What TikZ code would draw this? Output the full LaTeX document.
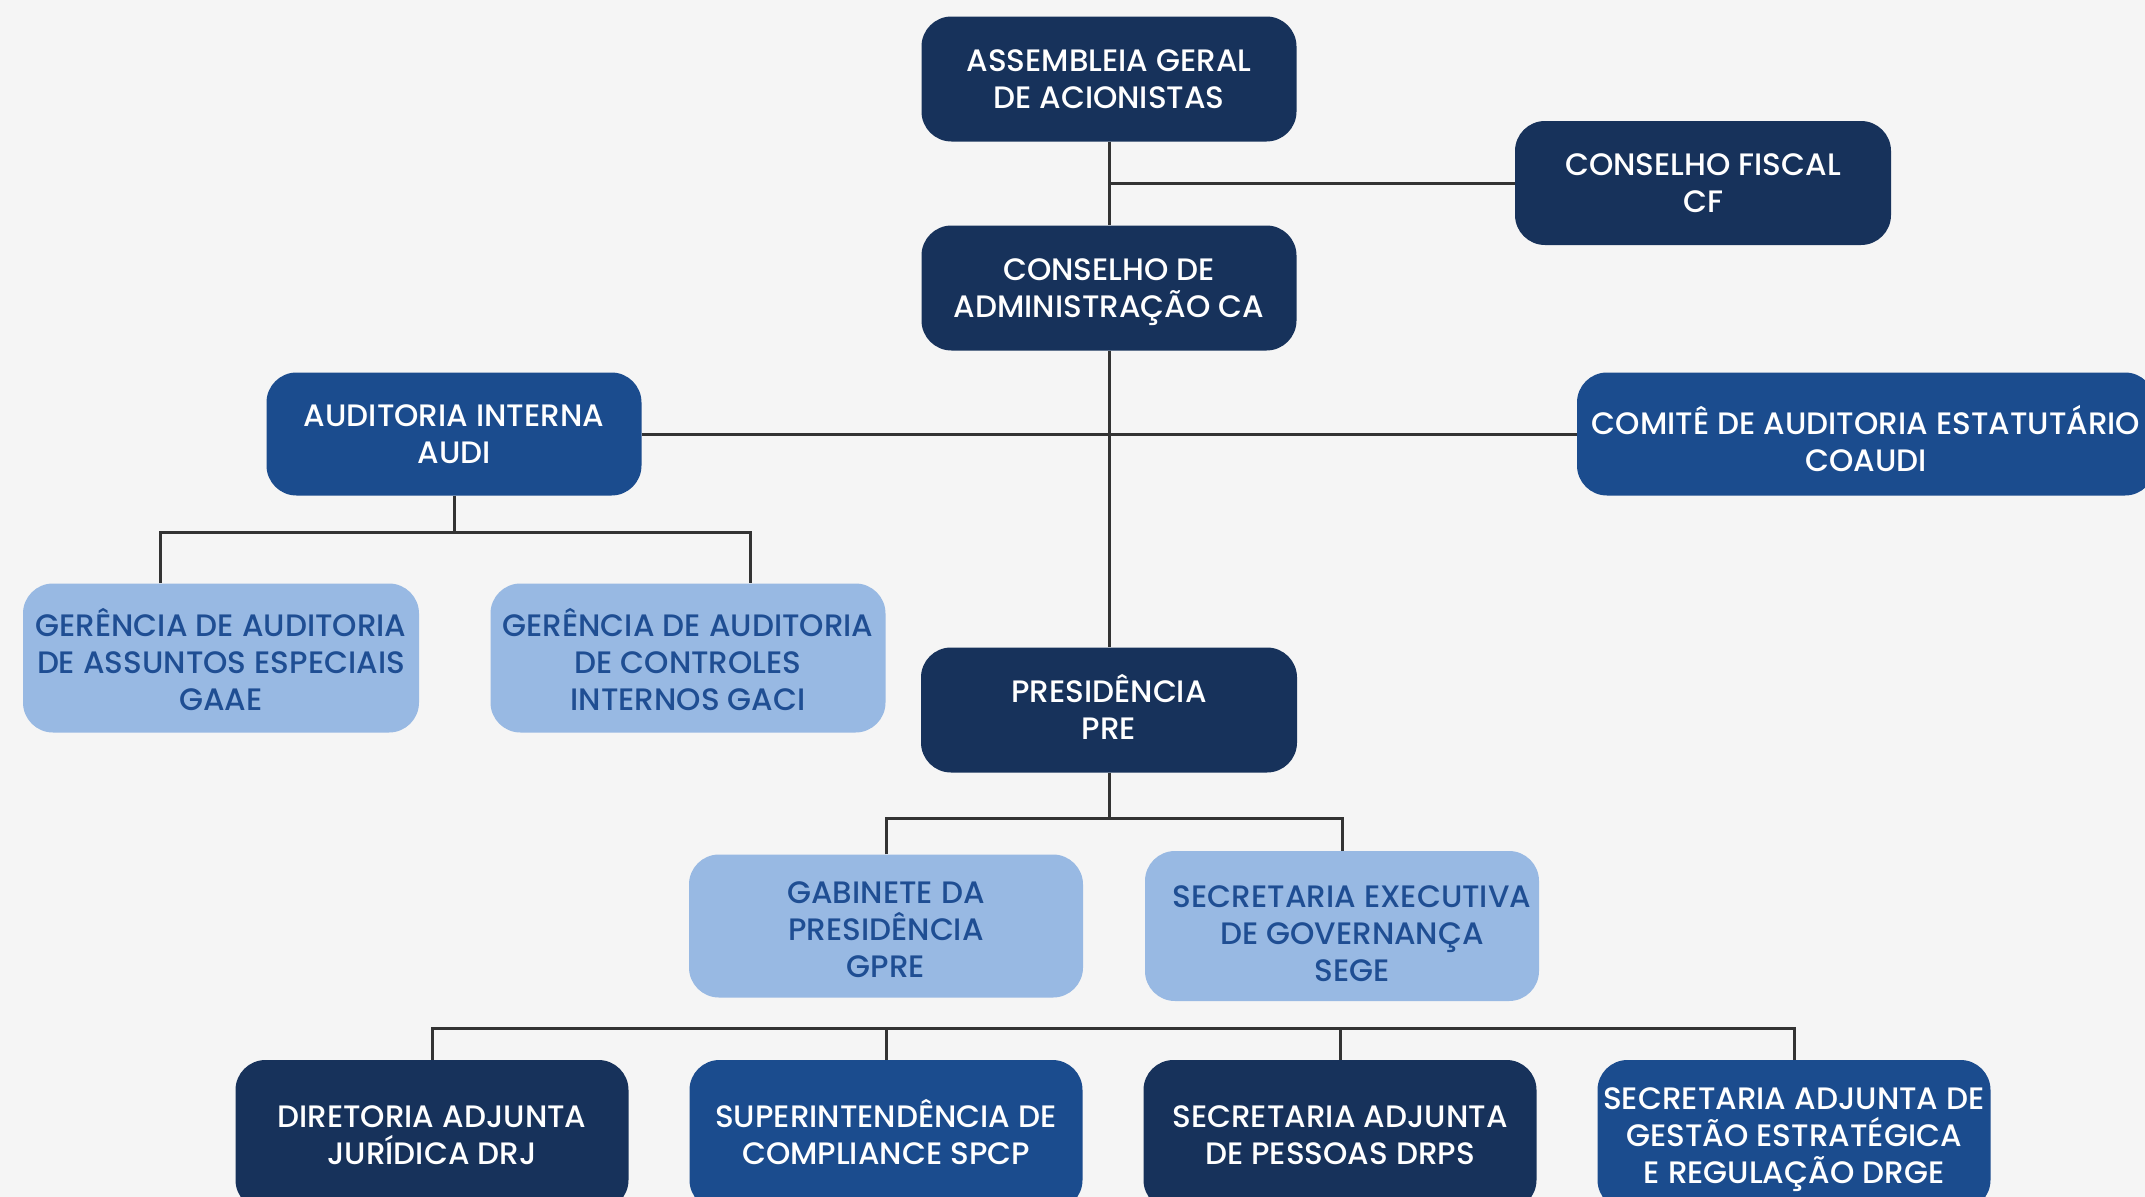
\documentclass[tikz,border=0pt]{standalone}
\usepackage{fontspec}
\setmainfont{Poppins}[BoldFont={Poppins Medium}]
\usetikzlibrary{calc}
\definecolor{bgc}{HTML}{F5F5F5}
\definecolor{darkc}{HTML}{17325B}
\definecolor{midc}{HTML}{1B4C8E}
\definecolor{lightc}{HTML}{98B9E3}
\definecolor{lighttxt}{HTML}{1F4E93}
\definecolor{linec}{HTML}{333333}
\newcommand{\tl}{\rule{0pt}{31pt}}
\newcommand{\bl}{\rule[-9pt]{0pt}{9pt}}
\tikzset{
  box/.style={rectangle, rounded corners=30pt, align=center, inner sep=0pt,
    font=\fontsize{31}{37}\selectfont\bfseries,
    execute at end node=\bl},
  darkbox/.style={box, fill=darkc, text=white},
  midbox/.style={box, fill=midc, text=white},
  lightbox/.style={box, fill=lightc, text=lighttxt},
  lighttext/.style={box, text=lighttxt},
  whitetext/.style={box, text=white},
  conn/.style={draw=linec, line width=3pt},
}
\begin{document}
\begin{tikzpicture}[x=1pt,y=-1pt]
\useasboundingbox (0,0) rectangle (2145,1197);
\fill[bgc] (0,0) rectangle (2145,1197);
\clip (0,0) rectangle (2145,1197);

\coordinate (aj) at (454,532);
\coordinate (pj) at (1109,818);
\coordinate (bj) at (1109,1028);

% nodes
\node[darkbox, minimum width=375pt, minimum height=125pt] (aga) at (1109,79) {\tl ASSEMBLEIA GERAL\\DE ACIONISTAS};
\node[darkbox, minimum width=376pt, minimum height=124pt] (cf) at (1703,183) {\tl CONSELHO FISCAL\\CF};
\node[darkbox, minimum width=375pt, minimum height=125pt] (ca) at (1109,288) {\tl CONSELHO DE\\ADMINISTRAÇÃO CA};
\node[midbox, minimum width=375pt, minimum height=123pt] (audi) at (454,434) {\tl AUDITORIA INTERNA\\AUDI};
\node[midbox, minimum width=578pt, minimum height=123pt] (coaudi) at (1866,434) {};
\node[whitetext] (coauditxt) at ($(coaudi.center)+(0,8)$) {\tl COMITÊ DE AUDITORIA ESTATUTÁRIO\\COAUDI};
\node[lightbox, minimum width=396pt, minimum height=149pt] (gaae) at (221,658) {};
\node[lighttext] (gaaetxt) at ($(gaae.center)+(0,4)$) {\tl GERÊNCIA DE AUDITORIA\\DE ASSUNTOS ESPECIAIS\\GAAE};
\node[lightbox, minimum width=395pt, minimum height=149pt] (gaci) at (688,658) {};
\node[lighttext] (gacitxt) at ($(gaci.center)+(0,4)$) {\tl GERÊNCIA DE AUDITORIA\\DE CONTROLES\\INTERNOS GACI};
\node[darkbox, minimum width=376pt, minimum height=125pt] (pre) at (1109,710) {\tl PRESIDÊNCIA\\PRE};
\node[lightbox, minimum width=394pt, minimum height=143pt] (gpre) at (886,926) {};
\node[lighttext] (gpretxt) at ($(gpre.center)+(0,3)$) {\tl GABINETE DA\\PRESIDÊNCIA\\GPRE};
\node[lightbox, minimum width=394pt, minimum height=150pt] (sege) at (1342,926) {};
\node[lighttext] (segetxt) at ($(sege.center)+(10,7)$) {\tl SECRETARIA EXECUTIVA\\DE GOVERNANÇA\\SEGE};
\node[darkbox, minimum width=393pt, minimum height=150pt] (drj) at (432,1135) {\tl DIRETORIA ADJUNTA\\JURÍDICA DRJ};
\node[midbox, minimum width=393pt, minimum height=150pt] (spcp) at (886,1135) {\tl SUPERINTENDÊNCIA DE\\COMPLIANCE SPCP};
\node[darkbox, minimum width=393pt, minimum height=150pt] (drps) at (1340,1135) {\tl SECRETARIA ADJUNTA\\DE PESSOAS DRPS};
\node[midbox, minimum width=393pt, minimum height=150pt] (drge) at (1794,1135) {\tl SECRETARIA ADJUNTA DE\\GESTÃO ESTRATÉGICA\\E REGULAÇÃO DRGE};

% connectors
\draw[conn] (aga.south) -- (ca.north);
\draw[conn] (aga.south |- cf.west) -- (cf.west);
\draw[conn] (ca.south) -- (pre.north);
\draw[conn] (audi.east) -- (coaudi.west);
\draw[conn] (audi.south) -- (aj);
\draw[conn] ($(gaae.north)+(-61,0)$) |- (aj) -| ($(gaci.north)+(62,0)$);
\draw[conn] (pre.south) -- (pj);
\draw[conn] (gpre.north) |- (pj) -| (sege.north);
\draw[conn] (drj.north) |- (bj) -| (drge.north);
\draw[conn] (spcp.north) -- (spcp.north |- bj);
\draw[conn] (drps.north) -- (drps.north |- bj);
\end{tikzpicture}
\end{document}
